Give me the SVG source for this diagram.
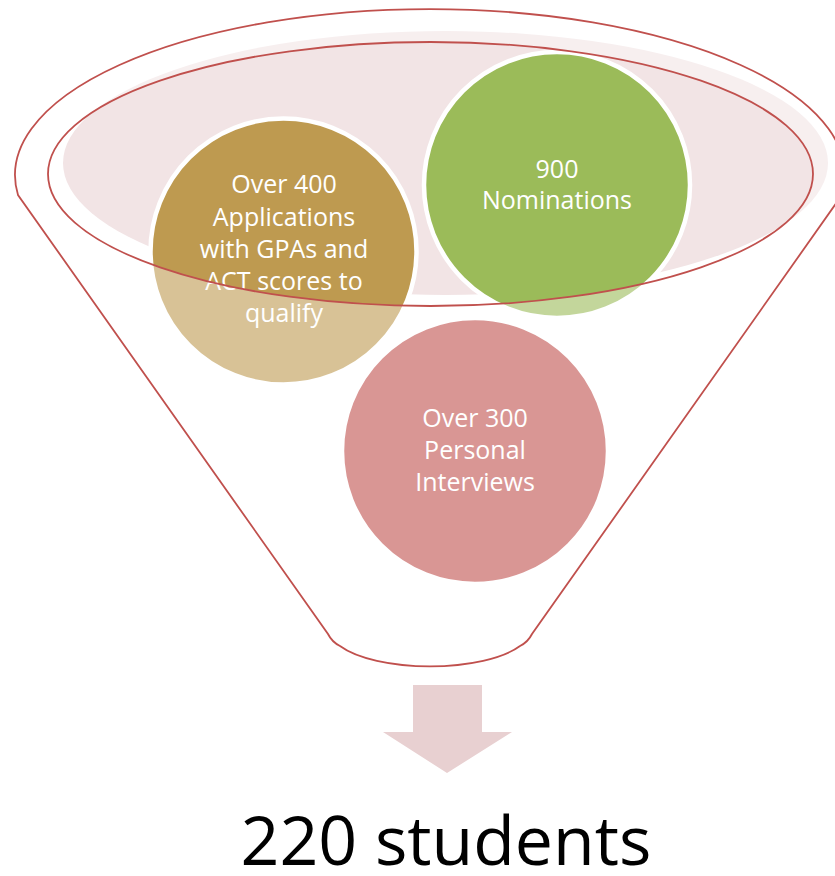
<svg xmlns="http://www.w3.org/2000/svg" width="835" height="876" viewBox="0 0 835 876">
  <style>
    .node-text { font-family: "Open Sans", "Liberation Sans", sans-serif; font-size: 25px; fill: #FFFFFF; text-anchor: middle; }
    .circle { stroke: #FFFFFF; stroke-width: 4.5; }
    .red-line { fill: none; stroke: #C0504D; stroke-width: 1.8; }
    .label { font-family: "Open Sans", "Liberation Sans", sans-serif; font-size: 68px; fill: #000000; text-anchor: middle; }
  </style>
  <rect x="0" y="0" width="835" height="876" fill="#FFFFFF"/>

  <!-- funnel mouth fill -->
  <g id="funnel-fill">
    <ellipse cx="445.5" cy="163" rx="382.5" ry="132" fill="#F2E4E5"/>
  </g>

  <g id="node-applications">
    <circle class="circle" cx="283.5" cy="251.5" r="133" fill="#BE9A50"/>
    <text class="node-text" x="284" y="193">Over 400</text>
    <text class="node-text" x="284" y="225.5">Applications</text>
    <text class="node-text" x="284" y="258">with GPAs and</text>
    <text class="node-text" x="284" y="290">ACT scores to</text>
    <text class="node-text" x="284" y="322">qualify</text>
  </g>

  <g id="node-nominations">
    <circle class="circle" cx="557" cy="185" r="133" fill="#9BBB59"/>
    <text class="node-text" x="557" y="177.5">900</text>
    <text class="node-text" x="557" y="209">Nominations</text>
  </g>

  <g id="node-interviews">
    <circle class="circle" cx="475" cy="451" r="133" fill="#C0504D"/>
    <text class="node-text" x="475" y="426.5">Over 300</text>
    <text class="node-text" x="475" y="459">Personal</text>
    <text class="node-text" x="475" y="491">Interviews</text>
  </g>

  <!-- translucent funnel body over the contents, leaving the mouth clear -->
  <g id="funnel-body">
    <path fill="#FFFFFF" fill-opacity="0.4" fill-rule="evenodd"
      d="M 18 195 A 415 166 0 1 1 842 195 L 530 637 A 100 36 0 0 1 330 637 Z
         M 48 174 A 382.5 132 0 1 0 813 174 A 382.5 132 0 1 0 48 174 Z"/>
  </g>

  <g id="connectors">
    <path class="red-line" d="M 18 195 A 415 166 0 1 1 842 195 L 532 634 Q 528 642 520 646 A 100 36 0 0 1 340 646 Q 332 642 328 634 Z"/>
    <ellipse class="red-line" cx="430.5" cy="174" rx="382.5" ry="132"/>
    <polygon id="arrow" fill="#E8D0D1" points="413,685 482,685 482,732 512,732 447,773 383,732 413,732"/>
  </g>

  <g id="result">
    <text class="label" x="446" y="865">220 students</text>
  </g>
</svg>
